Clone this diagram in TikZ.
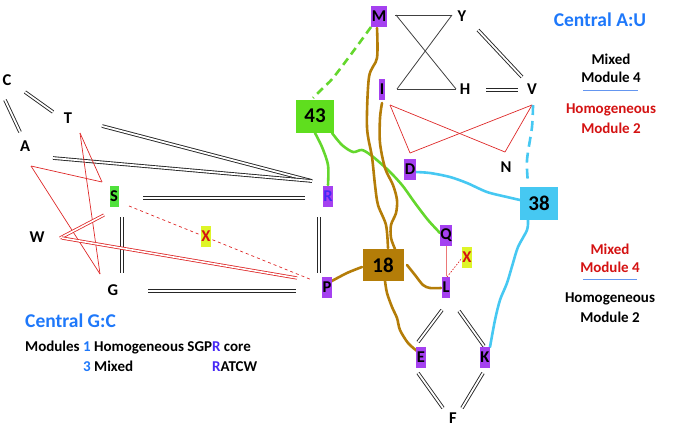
\documentclass[tikz,border=0pt]{standalone}
\usepackage{fontspec}
\setmainfont{Carlito}
\usetikzlibrary{calc}
\pgfdeclarelayer{bg}
\pgfsetlayers{bg,main}
\definecolor{purp}{RGB}{165,65,240}
\definecolor{rtext}{RGB}{70,40,245}
\definecolor{gbox}{RGB}{95,222,30}
\definecolor{gline}{RGB}{100,215,45}
\definecolor{sgreen}{RGB}{80,225,60}
\definecolor{cyanb}{RGB}{70,200,242}
\definecolor{brn}{RGB}{180,125,8}
\definecolor{ylw}{RGB}{222,245,40}
\definecolor{blu}{RGB}{30,120,250}
\definecolor{redt}{RGB}{212,18,18}
\definecolor{redl}{RGB}{222,40,40}
\definecolor{pinkl}{RGB}{235,120,120}
\definecolor{sepb}{RGB}{100,150,240}
\begin{document}
\begin{tikzpicture}[x=1pt,y=-1pt,
 lbl/.style={font=\bfseries\fontsize{16.5}{18}\selectfont, inner sep=0.6pt, minimum height=21pt},
 pbox/.style={lbl, fill=purp},
 numbox/.style={font=\bfseries\fontsize{21}{24}\selectfont, inner sep=0pt, minimum width=38pt, minimum height=33pt},
 dbl/.style={draw=black!85, double=white, double distance=1.8pt, line width=0.9pt},
 rdbl/.style={draw=redl, double=white, double distance=1.6pt, line width=0.8pt},
 rln/.style={draw=redl, line width=0.7pt},
 gln/.style={draw=black!75, line width=0.8pt},
 strand/.style={line width=2.6pt, line cap=round, line join=round},
 txt/.style={font=\bfseries\fontsize{15}{18}\selectfont, anchor=base, inner sep=0pt},
 headline/.style={font=\bfseries\fontsize{19.5}{22}\selectfont, text=blu, inner sep=0pt, anchor=base},
 seprule/.style={draw=sepb, line width=0.8pt}
]
\useasboundingbox (0,0) rectangle (685,439);
% plain letters
\node[lbl] (C) at (7,80) {C};
\node[lbl] (T) at (68,118) {T};
\node[lbl] (A) at (25,146) {A};
\node[lbl] (W) at (37,237) {W};
\node[lbl] (G) at (113,290) {G};
\node[lbl] (Y) at (462,16) {Y};
\node[lbl] (H) at (465,89) {H};
\node[lbl] (V) at (532,89) {V};
\node[lbl] (N) at (506,167) {N};
\node[lbl] (F) at (453,418) {F};
% coloured letters
\node[lbl, fill=sgreen] (S) at (114,196) {S};
\node[lbl, fill=ylw, text=redt] (X1) at (206,236) {X};
\node[lbl, fill=ylw, text=redt] (X2) at (467,257) {X};
\node[pbox, text=rtext] (R) at (328,196) {R};
\node[pbox] (P) at (327,287) {P};
\node[pbox] (M) at (379,16) {M};
\node[pbox] (I) at (382,89) {I};
\node[pbox] (D) at (410,169) {D};
\node[pbox] (Q) at (446,235) {Q};
\node[pbox] (L) at (446,287) {L};
\node[pbox] (E) at (421,357) {E};
\node[pbox] (K) at (485,357) {K};
% number boxes
\node[numbox, fill=gbox] (n43) at (315,116) {43};
\node[numbox, fill=cyanb] (n38) at (539,203) {38};
\node[numbox, fill=brn, minimum width=41pt, minimum height=32pt] (n18) at (383,265) {18};
% texts
\node[headline] (cau) at (600,27) {Central A:U};
\node[txt] (ta1) at (611,64) {Mixed};
\node[txt] (ta2) at (611,82) {Module 4};
\node[txt, text=redt] (ta3) at (611,113) {Homogeneous};
\node[txt, text=redt] (ta4) at (611,133) {Module 2};
\coordinate (sa1) at (583,90); \coordinate (sa2) at (638,90);
\draw[seprule] (sa1) -- (sa2);
\node[txt, text=redt] (tb1) at (610,254) {Mixed};
\node[txt, text=redt] (tb2) at (610,272) {Module 4};
\node[txt] (tb3) at (610,302) {Homogeneous};
\node[txt] (tb4) at (610,322) {Module 2};
\coordinate (sb1) at (583,279); \coordinate (sb2) at (637,279);
\draw[seprule] (sb1) -- (sb2);
\node[headline, anchor=base west] (cgc) at (25,327) {Central G:C};
\node[txt, anchor=base west] (mod1) at (25,351) {Modules \textcolor{blu}{1} Homogeneous SGP\textcolor{rtext}{R} core};
\node[txt, anchor=base west] (mod3) at (83,371) {\textcolor{blu}{3} Mixed};
\node[txt, anchor=base west] (ratcw) at (212,371) {\textcolor{rtext}{R}ATCW};
\begin{pgfonlayer}{bg}
% black double lines
\draw[dbl] ($(C)+(18,12)$) -- ($(T)+(-15,-6)$);
\draw[dbl] ($(C)+(-2,20)$) -- ($(A)+(-5,-14)$);
\draw[dbl] ($(T)+(34,8)$) -- ($(R)+(-16,-15)$);
\draw[dbl] ($(A)+(28,12)$) -- ($(R)+(-16,-15)$);
\draw[dbl] ($(S)+(29,2)$) -- ($(R)+(-23,2)$);
\draw[dbl] ($(S)+(8,21)$) -- ($(G)+(9,-17)$);
\draw[dbl] ($(R)+(-9,21)$) -- ($(P)+(-8,-14)$);
\draw[dbl] ($(G)+(35,1)$) -- ($(P)+(-31,4)$);
\draw[dbl] ($(Y)+(16,14)$) -- ($(V)+(-10,-12)$);
\draw[dbl] ($(H)+(21,1)$) -- ($(V)+(-14,1)$);
\draw[dbl] ($(L)+(-4,23)$) -- ($(E)+(-3,-15)$);
\draw[dbl] ($(L)+(13,24)$) -- ($(K)+(-1,-11)$);
\draw[dbl] ($(E)+(-3,16)$) -- ($(F)+(-10,-10)$);
\draw[dbl] ($(K)+(-2,16)$) -- ($(F)+(9,-10)$);
% grey single lines
\draw[gln] ($(M)+(16,-1)$) -- ($(Y)+(-10,-1)$);
\draw[gln] ($(I)+(15,0)$) -- ($(H)+(-9,0)$);
\draw[gln] ($(M)+(17,-1)$) -- ($(H)+(-9,0)$);
\draw[gln] ($(Y)+(-10,-1)$) -- ($(I)+(15,0)$);
% red lines
\draw[rln] ($(T)+(12,15)$) -- ($(S)+(-12,-14)$);
\draw[rln] ($(A)+(6,20)$) -- ($(S)+(-12,-14)$);
\draw[rln] ($(T)+(12,15)$) -- ($(G)+(-13,-16)$);
\draw[rln] ($(A)+(6,20)$) -- ($(G)+(-13,-16)$);
\draw[rdbl] ($(W)+(23,1)$) -- ($(S)+(-10,19)$);
\draw[rdbl] ($(W)+(25,1)$) -- ($(P)+(-30,-9)$);
\draw[draw=redl, line width=0.7pt, dash pattern=on 3pt off 3pt] ($(S)+(15,10)$) -- ($(P)+(-15,-7)$);
\draw[rln] ($(I)+(8,16)$) -- ($(D)+(0,-16)$);
\draw[rln] ($(I)+(8,16)$) -- ($(N)+(-1,-15)$);
\draw[rln] ($(D)+(0,-16)$) -- ($(V)+(0,16)$);
\draw[rln] ($(N)+(-1,-15)$) -- ($(V)+(0,16)$);
\draw[draw=pinkl, line width=1pt] (Q.south) -- (L.north);
\draw[draw=redl, line width=0.7pt, dash pattern=on 1.5pt off 1.5pt] ($(L)+(1,-10)$) -- ($(X2)+(-5,1)$);
% green strands
\draw[strand, gline, line cap=butt, dash pattern=on 8pt off 5pt] plot[smooth, tension=0.5] coordinates {($(M)+(-8,11)$) (352,53) (333,78) (323,88) ($(n43)+(-2,-18)$)};
\draw[strand, gline] plot[smooth, tension=0.5] coordinates {($(n43)+(0,17)$) (322,147) (328,165) ($(R)+(0,-11)$)};
\draw[strand, gline] plot[smooth, tension=0.5] coordinates {($(n43)+(17,17)$) (342,145) (353,152) (362,150) (372,156) (388,170) (402,185) (415,203) (428,220) ($(Q)+(-6,-2)$)};
% brown strands
\draw[strand, brn] plot[smooth, tension=0.5] coordinates {($(M)+(-2,12)$) (377,58) (369,77) (367,127) (372,157) (375,185) (378,205) (386,225) ($(n18)+(5,-17)$)};
\draw[strand, brn] plot[smooth, tension=0.5] coordinates {($(I)+(0,14)$) (380,118) (380,143) (385,168) (393,185) (397,200) (396,213) (391,225) (391,238) ($(n18)+(12,-16)$)};
\draw[strand, brn] plot[smooth, tension=0.5] coordinates {($(P)+(3,-5)$) (347,273) ($(n18)+(-21,2)$)};
\draw[strand, brn] plot[smooth, tension=0.5] coordinates {($(n18)+(24,0)$) (415,275) (423,285) (430,288) ($(L)+(-5,1)$)};
\draw[strand, brn] plot[smooth, tension=0.5] coordinates {($(n18)+(2,16)$) (387,293) (392,307) (397,318) (400,330) (408,343) ($(E)+(-4,-6)$)};
% cyan strands
\draw[strand, cyanb, line cap=butt, dash pattern=on 10pt off 6pt] plot[smooth, tension=0.5] coordinates {($(V)+(1,16)$) (532,127) (527,160) ($(n38)+(-11,-20)$)};
\draw[strand, cyanb] plot[smooth, tension=0.5] coordinates {($(D)+(5,3)$) (430,173) (450,177) (467,183) (487,192) (507,197) ($(n38)+(-19,-3)$)};
\draw[strand, cyanb] plot[smooth, tension=0.5] coordinates {($(n38)+(-11,17)$) (527,230) (518,247) (513,263) (507,283) (500,300) (495,320) ($(K)+(5,-10)$)};
\end{pgfonlayer}
\end{tikzpicture}
\end{document}
